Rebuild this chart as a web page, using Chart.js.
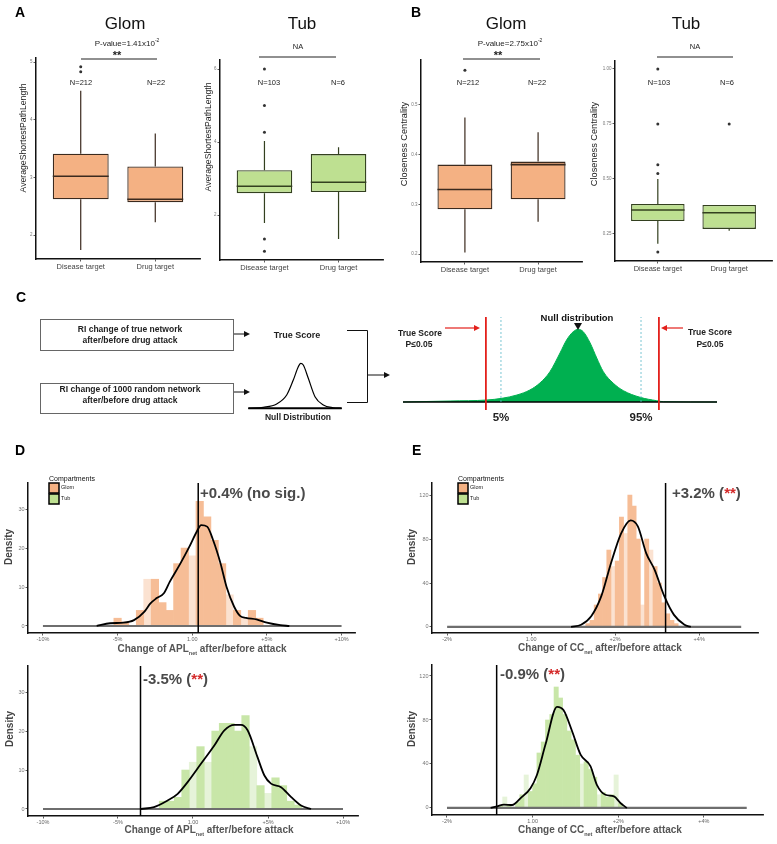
<!DOCTYPE html>
<html>
<head>
<meta charset="utf-8">
<script src="https://cdn.jsdelivr.net/npm/chart.js@4.4.0/dist/chart.umd.min.js"></script>
<style>
  body { margin: 0; background: #fff; }
  #fig { position: relative; width: 777px; height: 844px; overflow: hidden; font-family: "Liberation Sans", Arial, sans-serif; }
  #fig canvas { position: absolute; }
  .t { position: absolute; white-space: nowrap; line-height: 1; color: #222; }
  svg { position: absolute; left: 0; top: 0; }
</style>
</head>
<body>
<div id="fig"></div>
<script>
// ---- dados dos boxplots (A e B): [min, q1, mediana, q3, max] ----
const boxCategories = ['Disease target', 'Drug target'];

const aplGlomBox = [[1.74, 2.62, 3.02, 3.41, 4.50], [2.22, 2.57, 2.62, 3.19, 3.76]];
const aplGlomOut = [[4.92, 4.83], []];
const aplGlomTicks = [2, 3, 4, 5];

const aplTubBox = [[1.78, 2.60, 2.79, 3.23, 4.03], [1.34, 2.63, 2.90, 3.67, 3.86]];
const aplTubOut = [[6.0, 5.0, 4.27, 1.34, 1.01], []];
const aplTubTicks = [2, 4, 6];

const ccGlomBox = [[0.203, 0.290, 0.330, 0.380, 0.475], [0.265, 0.310, 0.380, 0.386, 0.445]];
const ccGlomOut = [[0.57], []];
const ccGlomTicks = [0.2, 0.3, 0.4, 0.5];

const ccTubBox = [[0.205, 0.309, 0.359, 0.386, 0.500], [0.264, 0.273, 0.346, 0.382, 0.382]];
const ccTubOut = [[1.0, 0.75, 0.565, 0.525, 0.168], [0.75]];
const ccTubTicks = [0.25, 0.5, 0.75, 1.0];
const ccTubTickLabels = ['0.25', '0.50', '0.75', '1.00'];

// ---- painel C: distribuicao nula esquematica ----
const nullX = [0, 15.0, 26.7, 31.5, 36.3, 40.4, 43.6, 46.8, 50.0, 52.1, 54.2, 55.8, 57.4, 59.6, 61.7, 63.8, 67.0, 70.2, 75.5, 80.8, 83.0, 100];
const nullY = [0, 0.01, 0.02, 0.037, 0.07, 0.12, 0.19, 0.303, 0.49, 0.62, 0.703, 0.727, 0.703, 0.59, 0.44, 0.303, 0.187, 0.113, 0.047, 0.013, 0.003, 0];
const trueScoreX = [26.4, 81.5];
const percentileX = [31.2, 75.8];
const smallX = [2.3, 17.3, 30.7, 40.7, 47.3, 52.3, 54.7, 57.3, 62.3, 69, 77.3, 87.3, 95.7];
const smallY = [0, 0.022, 0.096, 0.296, 0.629, 0.925, 1.0, 0.962, 0.667, 0.258, 0.073, 0.013, 0];

// ---- painel D: APL ----
const aplTickX = [0.9, 0.95, 1.0, 1.05, 1.1];
const aplTickLabels = ['-10%', '-5%', '1.00', '+5%', '+10%'];
const aplTickY = [0, 10, 20, 30];

const aplGlomBins = [0.950, 0.955, 0.960, 0.965, 0.970, 0.975, 0.980, 0.985, 0.990, 0.995, 1.000, 1.005, 1.010, 1.015, 1.020, 1.025, 1.030, 1.035, 1.040, 1.045];
const aplGlomHist = [2, 1, 0, 4, 0, 12, 6, 4, 16, 20, 0, 32, 28, 22, 16, 0, 4, 0, 4, 2];
const aplGlomPale = [0, 0, 0, 0, 12, 0, 0, 0, 0, 0, 18, 0, 0, 0, 0, 8, 0, 2, 0, 0];
const aplGlomDensX = [0.936, 0.945, 0.954, 0.961, 0.968, 0.972, 0.976, 0.981, 0.985, 0.992, 0.998, 1.003, 1.006, 1.010, 1.014, 1.019, 1.023, 1.028, 1.032, 1.036, 1.043, 1.050, 1.059, 1.065];
const aplGlomDensY = [0, 0.7, 0.85, 1.5, 3.7, 5.8, 7.1, 8.4, 11.4, 16, 20.3, 24.2, 25.9, 25.5, 22, 16, 10, 5, 2.6, 2.1, 1.7, 0.85, 0.2, 0];
const aplGlomTrue = 1.004;

const aplTubBins = [0.980, 0.985, 0.990, 0.995, 1.000, 1.005, 1.010, 1.015, 1.020, 1.025, 1.030, 1.035, 1.040, 1.045, 1.050, 1.055, 1.060, 1.065, 1.070];
const aplTubHist = [2, 2, 3, 10, 0, 16, 0, 20, 22, 22, 20, 24, 0, 6, 0, 8, 6, 2, 1];
const aplTubPale = [0, 0, 0, 0, 12, 0, 12, 0, 0, 0, 0, 0, 16, 0, 4, 0, 0, 0, 0];
const aplTubDensX = [0.9653, 0.974, 0.9831, 0.9898, 0.9964, 1.0053, 1.0142, 1.0209, 1.0276, 1.032, 1.0364, 1.043, 1.0476, 1.052, 1.0587, 1.0653, 1.072, 1.0787];
const aplTubDensY = [0, 0.5, 2.2, 3.9, 6.9, 11.6, 16.3, 20.2, 21.6, 21.6, 20.2, 13.3, 8.6, 6.5, 5.6, 3.1, 0.9, 0];
const aplTubTrue = 0.965;

// ---- painel E: CC ----
const ccTickX = [0.98, 1.0, 1.02, 1.04];
const ccTickLabels = ['-2%', '1.00', '+2%', '+4%'];
const ccTickY = [0, 40, 80, 120];

const ccGlomBins = [1.0135, 1.0145, 1.0155, 1.0165, 1.0175, 1.0185, 1.0195, 1.0205, 1.0215, 1.0225, 1.0235, 1.0245, 1.0255, 1.0265, 1.0275, 1.0285, 1.0295, 1.0305, 1.0315, 1.0325, 1.0335, 1.0345];
const ccGlomHist = [3, 6, 20, 30, 45, 70, 0, 60, 100, 0, 120, 110, 80, 0, 80, 0, 55, 40, 22, 12, 6, 3];
const ccGlomPale = [0, 0, 0, 0, 0, 0, 55, 0, 0, 85, 0, 0, 0, 20, 0, 70, 0, 0, 0, 0, 0, 0];
const ccGlomDensX = [1.0095, 1.0119, 1.0143, 1.0167, 1.0190, 1.0214, 1.0237, 1.0254, 1.0274, 1.0294, 1.0317, 1.0340, 1.0365, 1.0380];
const ccGlomDensY = [0, 2, 9.7, 28, 58, 85, 97, 91.5, 67, 52, 28, 11, 2, 0];
const ccGlomTrue = 1.032;

const ccTubBins = [0.9925, 0.9935, 0.9945, 0.9955, 0.9965, 0.9975, 0.9985, 0.9995, 1.0005, 1.0015, 1.0025, 1.0035, 1.0045, 1.0055, 1.0065, 1.0075, 1.0085, 1.0095, 1.0105, 1.0115, 1.0125, 1.0135, 1.0145, 1.0155, 1.0165, 1.0175, 1.0185, 1.0195, 1.0205];
const ccTubHist = [2, 0, 3, 0, 5, 12, 0, 15, 22, 50, 60, 80, 85, 110, 100, 85, 70, 62, 48, 0, 42, 35, 28, 0, 14, 10, 12, 0, 4];
const ccTubPale = [0, 10, 0, 0, 0, 0, 30, 0, 0, 0, 0, 0, 0, 0, 0, 0, 0, 0, 0, 40, 0, 0, 0, 12, 0, 0, 0, 30, 0];
const ccTubDensX = [0.9902, 0.9917, 0.9933, 0.9952, 0.9972, 0.9995, 1.0010, 1.0030, 1.0057, 1.0072, 1.0092, 1.0112, 1.0135, 1.0150, 1.0170, 1.0190, 1.0205, 1.0220];
const ccTubDensY = [0, 1.5, 3, 2.7, 9, 18, 30, 57.6, 92, 89, 70, 48.5, 38, 21, 12, 10.6, 4.5, 0];
const ccTubTrue = 0.9916;

// cores
const glomFill = '#F4B183', glomEdge = '#3b2a1e';
const tubFill = '#BEE091', tubEdge = '#33401f';
const FONT = '"Liberation Sans", Arial, sans-serif';

const fig = document.getElementById('fig');

// Texto em HTML, centrado (ou alinhado a esquerda com 'l')
function txt(html, x, y, css, anchor, rot) {
    var d = document.createElement('div');
    d.className = 't';
    d.innerHTML = html;
    d.style.cssText += css;
    d.style.left = x + 'px';
    d.style.top = y + 'px';
    var tr = anchor === 'l' ? 'translate(0,-50%)' : 'translate(-50%,-50%)';
    if (rot) tr += ' rotate(-90deg)';
    d.style.transform = tr;
    fig.appendChild(d);
}

// Cria um canvas cuja area de plotagem fica em (L,T)-(R,B)
function place(L, T, R, B, yw, xh) {
    var c = document.createElement('canvas');
    c.width = Math.round(R - L + yw + 6);
    c.height = Math.round(B - T + 6 + xh);
    c.style.left = (L - yw) + 'px';
    c.style.top = (T - 6) + 'px';
    fig.appendChild(c);
    return c;
}

function baseOpts() {
    return {
        responsive: false, animation: false, events: [],
        layout: { padding: { top: 6, right: 6, left: 0, bottom: 0 } },
        plugins: { legend: { display: false }, tooltip: { enabled: false } }
    };
}

function linAxis(pos, min, max, ticks, labels, size, fontSize, color) {
    return {
        type: 'linear', position: pos, min: min, max: max, offset: false,
        afterBuildTicks: function(s) { s.ticks = ticks.map(function(v) { return { value: v }; }); },
        afterFit: function(s) {
            if (pos === 'bottom') s.height = size; else s.width = size;
            s.paddingLeft = 0; s.paddingRight = 0; s.paddingTop = 0; s.paddingBottom = 0;
        },
        ticks: {
            callback: function(v, i) { return labels[i]; },
            font: { family: FONT, size: fontSize }, color: color,
            padding: 1, autoSkip: false, maxRotation: 0
        },
        grid: { drawOnChartArea: false, offset: false, tickLength: 2.5, color: '#333', lineWidth: 0.8 },
        border: { color: '#111', width: 1.5 }
    };
}

function pts(xs, ys) {
    return xs.map(function(v, i) { return { x: v, y: ys[i] }; });
}

// Boxplot: caixa = barra flutuante, bigodes e mediana desenhados pelas escalas
function boxChart(geo, stats, outs, ymin, ymax, yTicks, yLabels, fill, edge) {
    var cv = place(geo[0], geo[1], geo[2], geo[3], 22, 14);
    var whisk = {
        id: 'whisk',
        beforeDatasetsDraw: function(chart) {
            var ctx = chart.ctx, x = chart.scales.x, y = chart.scales.y;
            ctx.save();
            ctx.strokeStyle = edge; ctx.lineWidth = 1.2;
            stats.forEach(function(s, i) {
                var px = x.getPixelForValue(i + 1);
                ctx.beginPath();
                ctx.moveTo(px, y.getPixelForValue(s[0])); ctx.lineTo(px, y.getPixelForValue(s[1]));
                ctx.moveTo(px, y.getPixelForValue(s[3])); ctx.lineTo(px, y.getPixelForValue(s[4]));
                ctx.stroke();
            });
            ctx.restore();
        },
        afterDatasetsDraw: function(chart) {
            var ctx = chart.ctx, y = chart.scales.y;
            var bars = chart.getDatasetMeta(0).data;
            ctx.save();
            ctx.strokeStyle = edge; ctx.lineWidth = 1.6;
            stats.forEach(function(s, i) {
                var b = bars[i], py = y.getPixelForValue(s[2]);
                ctx.beginPath();
                ctx.moveTo(b.x - b.width / 2, py); ctx.lineTo(b.x + b.width / 2, py);
                ctx.stroke();
            });
            ctx.restore();
        }
    };
    var opts = baseOpts();
    opts.scales = {
        x: linAxis('bottom', 0.4, 2.6, [1, 2], boxCategories, 14, 7.5, '#444'),
        y: linAxis('left', ymin, ymax, yTicks, yLabels, 22, 4.5, '#777')
    };
    new Chart(cv, {
        data: {
            datasets: [{
                type: 'bar',
                data: stats.map(function(s, i) { return { x: i + 1, y: [s[1], s[3]] }; }),
                backgroundColor: fill, borderColor: edge, borderWidth: 1.3, borderSkipped: false,
                barPercentage: 1, categoryPercentage: 0.75
            }, {
                type: 'scatter',
                data: outs.flatMap(function(o, i) { return o.map(function(v) { return { x: i + 1, y: v }; }); }),
                pointRadius: 1.5, pointBackgroundColor: '#333', pointBorderWidth: 0
            }]
        },
        options: opts,
        plugins: [whisk]
    });
}

// Histograma + densidade + linha do escore verdadeiro
function densChart(geo, xr, yr, xTicks, xLabels, yTicks, bins, hist, pale, col, paleCol, dx, dy, zero, vx) {
    var cv = place(geo[0], geo[1], geo[2], geo[3], 22, 10);
    var opts = baseOpts();
    opts.scales = {
        x: linAxis('bottom', xr[0], xr[1], xTicks, xLabels, 10, 5.5, '#666'),
        y: linAxis('left', yr[0], yr[1], yTicks, yTicks.map(String), 22, 5.5, '#777')
    };
    new Chart(cv, {
        data: {
            datasets: [
                { type: 'line', data: [{ x: vx, y: yr[0] }, { x: vx, y: yr[1] }], borderColor: '#000', borderWidth: 1.5, pointRadius: 0, order: 1 },
                { type: 'line', data: pts(dx, dy), borderColor: '#000', borderWidth: 1.8, pointRadius: 0, cubicInterpolationMode: 'monotone', order: 2 },
                { type: 'line', data: [{ x: zero[0], y: 0 }, { x: zero[1], y: 0 }], borderColor: '#6e6e6e', borderWidth: 2.2, pointRadius: 0, order: 3 },
                { type: 'bar', data: pts(bins, hist), backgroundColor: col, grouped: false, barPercentage: 1, categoryPercentage: 1, order: 4 },
                { type: 'bar', data: pts(bins, pale), backgroundColor: paleCol, grouped: false, barPercentage: 1, categoryPercentage: 1, order: 5 }
            ]
        },
        options: opts
    });
}

// ---- A ----
boxChart([36, 58, 200, 259], aplGlomBox, aplGlomOut, 1.584, 5.07, aplGlomTicks, aplGlomTicks.map(String), glomFill, glomEdge);
boxChart([220, 60, 383, 260], aplTubBox, aplTubOut, 0.767, 6.25, aplTubTicks, aplTubTicks.map(String), tubFill, tubEdge);
// ---- B ----
boxChart([421, 60, 582, 262], ccGlomBox, ccGlomOut, 0.1839, 0.5906, ccGlomTicks, ccGlomTicks.map(String), glomFill, glomEdge);
boxChart([615, 61, 772, 261], ccTubBox, ccTubOut, 0.127, 1.036, ccTubTicks, ccTubTickLabels, tubFill, tubEdge);

// ---- C: distribuicao nula (direita) ----
(function() {
    var cv = place(403, 312, 717, 412, 0, 0);
    var opts = baseOpts();
    opts.scales = {
        x: { type: 'linear', min: 0, max: 100, display: false },
        y: { type: 'linear', min: -0.1, max: 0.9, display: false }
    };
    var ds = [
        { type: 'line', data: pts(nullX, nullY), borderColor: '#00B050', borderWidth: 1, backgroundColor: '#00B050', fill: 'origin', pointRadius: 0, cubicInterpolationMode: 'monotone', order: 4 },
        { type: 'line', data: [{ x: 0, y: 0 }, { x: 100, y: 0 }], borderColor: '#000', borderWidth: 1.6, pointRadius: 0, order: 3 }
    ];
    percentileX.forEach(function(v) {
        ds.push({ type: 'line', data: [{ x: v, y: 0 }, { x: v, y: 0.85 }], borderColor: '#5BB8C8', borderWidth: 0.8, borderDash: [2, 2], pointRadius: 0, order: 2 });
    });
    trueScoreX.forEach(function(v) {
        ds.push({ type: 'line', data: [{ x: v, y: -0.08 }, { x: v, y: 0.85 }], borderColor: '#E3201B', borderWidth: 1.8, pointRadius: 0, order: 1 });
    });
    new Chart(cv, { data: { datasets: ds }, options: opts });
})();

// ---- C: distribuicao nula pequena (esquerda) ----
(function() {
    var cv = place(246, 358, 344, 412, 0, 0);
    var opts = baseOpts();
    opts.scales = {
        x: { type: 'linear', min: 0, max: 98, display: false },
        y: { type: 'linear', min: -0.082, max: 1.118, display: false }
    };
    new Chart(cv, {
        data: {
            datasets: [
                { type: 'line', data: pts(smallX, smallY), borderColor: '#000', borderWidth: 1.2, pointRadius: 0, cubicInterpolationMode: 'monotone' },
                { type: 'line', data: [{ x: smallX[0], y: 0 }, { x: smallX[smallX.length - 1], y: 0 }], borderColor: '#000', borderWidth: 2, pointRadius: 0 }
            ]
        },
        options: opts
    });
})();

// ---- D ----
densChart([28, 483, 355, 633], [0.89, 1.109], [-1.8, 36.7], aplTickX, aplTickLabels, aplTickY,
    aplGlomBins, aplGlomHist, aplGlomPale, '#F6BD96', '#FBE2D1', aplGlomDensX, aplGlomDensY, [0.9, 1.1], aplGlomTrue);
densChart([28, 666, 358, 816], [0.89, 1.11], [-1.8, 36.7], aplTickX, aplTickLabels, aplTickY,
    aplTubBins, aplTubHist, aplTubPale, '#C8E6A8', '#E6F3D9', aplTubDensX, aplTubDensY, [0.9, 1.1], aplTubTrue);
// ---- E ----
densChart([432, 483, 758, 633], [0.9764, 1.054], [-5.5, 131], ccTickX, ccTickLabels, ccTickY,
    ccGlomBins, ccGlomHist, ccGlomPale, '#F6BD96', '#FBE2D1', ccGlomDensX, ccGlomDensY, [0.98, 1.05], ccGlomTrue);
densChart([432, 665, 763, 815], [0.9765, 1.0538], [-6.4, 130], ccTickX, ccTickLabels, ccTickY,
    ccTubBins, ccTubHist, ccTubPale, '#C8E6A8', '#E6F3D9', ccTubDensX, ccTubDensY, [0.98, 1.05], ccTubTrue);

// ---- linhas do diagrama, barras de significancia e legendas ----
var svg = '<svg width="777" height="844" xmlns="http://www.w3.org/2000/svg">' +
    '<g stroke="#222" stroke-width="1.2">' +
    '<line x1="81" y1="59" x2="157" y2="59"/><line x1="259" y1="57" x2="336" y2="57"/>' +
    '<line x1="463" y1="59" x2="540" y2="59"/><line x1="657" y1="57" x2="733" y2="57"/></g>' +
    '<g fill="none" stroke="#666" stroke-width="1">' +
    '<rect x="40.5" y="319.5" width="193" height="31"/><rect x="40.5" y="383.5" width="193" height="30"/></g>' +
    '<g stroke="#111" stroke-width="1" fill="none">' +
    '<line x1="234" y1="334" x2="244" y2="334"/><line x1="234" y1="392" x2="244" y2="392"/>' +
    '<polyline points="347,330.5 367.5,330.5 367.5,402.5 347,402.5"/><line x1="367" y1="375" x2="384" y2="375"/></g>' +
    '<g fill="#111"><polygon points="244,331 250,334 244,337"/><polygon points="244,389 250,392 244,395"/>' +
    '<polygon points="384,372 390,375 384,378"/><polygon points="574,323 582,323 578,330"/></g>' +
    '<g stroke="#E3201B" stroke-width="1.2"><line x1="445" y1="328" x2="474" y2="328"/><line x1="683" y1="328" x2="667" y2="328"/></g>' +
    '<g fill="#E3201B"><polygon points="474,325 480,328 474,331"/><polygon points="667,325 661,328 667,331"/></g>' +
    '<g stroke="#000" stroke-width="1.5">' +
    '<rect x="49" y="483" width="10" height="10" fill="' + glomFill + '"/><rect x="49" y="494" width="10" height="10" fill="' + tubFill + '"/>' +
    '<rect x="458" y="483" width="10" height="10" fill="' + glomFill + '"/><rect x="458" y="494" width="10" height="10" fill="' + tubFill + '"/></g>' +
    '</svg>';
fig.insertAdjacentHTML('beforeend', svg);

// ---- textos ----
var L14 = 'font-size:14px;font-weight:bold;color:#000;';
txt('A', 15, 12, L14, 'l');
txt('B', 411, 12, L14, 'l');
txt('C', 16, 297, L14, 'l');
txt('D', 15, 450, L14, 'l');
txt('E', 412, 450, L14, 'l');

var T17 = 'font-size:17px;color:#111;';
txt('Glom', 125, 23, T17);
txt('Tub', 302, 23, T17);
txt('Glom', 506, 23, T17);
txt('Tub', 686, 23, T17);

var P8 = 'font-size:8px;color:#222;';
txt('P-value=1.41x10<sup style="font-size:5px;vertical-align:4px">-2</sup>', 127, 43, P8);
txt('P-value=2.75x10<sup style="font-size:5px;vertical-align:4px">-2</sup>', 510, 43, P8);
var ST = 'font-size:11px;font-weight:bold;color:#222;';
txt('**', 117, 55, ST);
txt('**', 498, 55, ST);
txt('NA', 298, 47, 'font-size:7.5px;color:#222;');
txt('NA', 695, 47, 'font-size:7.5px;color:#222;');

var N8 = 'font-size:7.5px;color:#222;';
txt('N=212', 81, 83, N8); txt('N=22', 156, 83, N8);
txt('N=103', 269, 83, N8); txt('N=6', 338, 83, N8);
txt('N=212', 468, 83, N8); txt('N=22', 537, 83, N8);
txt('N=103', 659, 83, N8); txt('N=6', 727, 83, N8);

var YT = 'font-size:8.7px;color:#222;';
txt('AverageShortestPathLength', 23, 138, YT, 'c', true);
txt('AverageShortestPathLength', 208, 137, YT, 'c', true);
txt('Closeness Centrality', 405, 144, 'font-size:9.2px;color:#222;', 'c', true);
txt('Closeness Centrality', 595, 144, 'font-size:9.2px;color:#222;', 'c', true);

// C
var CB = 'font-size:8.5px;font-weight:bold;color:#222;';
txt('RI change of true network', 130, 329, CB);
txt('after/before drug attack', 130, 340, CB);
txt('RI change of 1000 random network', 130, 389, CB);
txt('after/before drug attack', 130, 400, CB);
txt('True Score', 297, 335, 'font-size:9px;font-weight:bold;color:#222;');
txt('Null Distribution', 298, 417, CB);
txt('Null distribution', 577, 318, 'font-size:9.5px;font-weight:bold;color:#111;');
txt('True Score', 420, 333, CB); txt('P≤0.05', 419, 344, CB);
txt('True Score', 710, 332, CB); txt('P≤0.05', 710, 344, CB);
txt('5%', 501, 418, 'font-size:11.5px;font-weight:bold;color:#222;');
txt('95%', 641, 418, 'font-size:11.5px;font-weight:bold;color:#222;');

// D / E
var LG = 'font-size:7px;color:#111;';
txt('Compartments', 49, 478, LG, 'l');
txt('Glom', 61, 488, 'font-size:5.5px;color:#222;', 'l');
txt('Tub', 61, 499, 'font-size:5.5px;color:#222;', 'l');
txt('Compartments', 458, 478, LG, 'l');
txt('Glom', 470, 488, 'font-size:5.5px;color:#222;', 'l');
txt('Tub', 470, 499, 'font-size:5.5px;color:#222;', 'l');

var AN = 'font-size:15px;font-weight:bold;color:#4a4a4a;';
var RED = '<span style="color:#d42a2a">**</span>';
txt('+0.4% (no sig.)', 200, 492, AN, 'l');
txt('-3.5% (' + RED + ')', 143, 678, AN, 'l');
txt('+3.2% (' + RED + ')', 672, 492, AN, 'l');
txt('-0.9% (' + RED + ')', 500, 673, AN, 'l');

var XT = 'font-size:10px;font-weight:bold;color:#555;';
var SUB = '<span style="font-size:5.5px;vertical-align:-3px">net</span>';
txt('Change of APL' + SUB + ' after/before attack', 202, 650, XT);
txt('Change of APL' + SUB + ' after/before attack', 209, 831, XT);
txt('Change of CC' + SUB + ' after/before attack', 600, 649, XT);
txt('Change of CC' + SUB + ' after/before attack', 600, 831, XT);

var DT = 'font-size:10px;font-weight:bold;color:#444;';
txt('Density', 9, 547, DT, 'c', true);
txt('Density', 10, 729, DT, 'c', true);
txt('Density', 412, 547, DT, 'c', true);
txt('Density', 412, 729, DT, 'c', true);
</script>
</body>
</html>
